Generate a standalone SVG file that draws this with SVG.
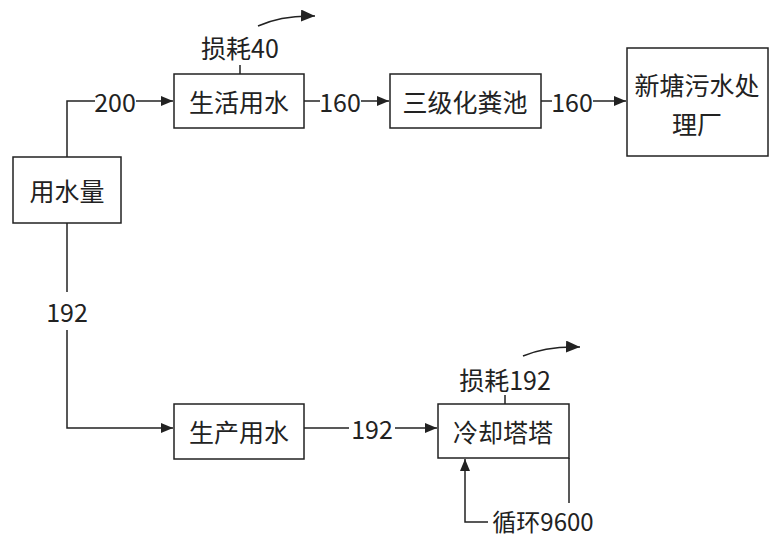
<svg xmlns="http://www.w3.org/2000/svg" width="769" height="537" viewBox="0 0 769 537">
<defs>
<marker id="ah" markerWidth="12" markerHeight="10" refX="12" refY="5" orient="auto" markerUnits="userSpaceOnUse">
<path d="M0,0 L12,5 L0,10 Z" fill="#222"/>
</marker>
<marker id="ah2" markerWidth="14" markerHeight="12" refX="14" refY="6" orient="auto" markerUnits="userSpaceOnUse">
<path d="M0,0 L14,6 L0,12 Z" fill="#222"/>
</marker>
<style>
.box{fill:#fff;stroke:#222;stroke-width:1.5}
.t{font-family:"Microsoft YaHei","Noto Sans CJK SC","Noto Sans",sans-serif;font-size:25px;fill:#222;text-anchor:middle;dominant-baseline:central}
.ln{fill:none;stroke:#222;stroke-width:1.5}
</style>
</defs>
<rect width="769" height="537" fill="#fff"/>
<g id="connectors">
<path class="ln" d="M67,157 V101 H95"/>
<path class="ln" d="M136,101 H173" marker-end="url(#ah)"/>
<path class="ln" d="M304,101 H320"/>
<path class="ln" d="M361,101 H389" marker-end="url(#ah)"/>
<path class="ln" d="M541,101 H552"/>
<path class="ln" d="M593,101 H626" marker-end="url(#ah)"/>
<path class="ln" d="M240,74 V65"/>
<path class="ln" d="M258,26 Q282,15 315,16" marker-end="url(#ah2)"/>
<path class="ln" d="M67,223 V292"/>
<path class="ln" d="M67,330 V428 H173" marker-end="url(#ah)"/>
<path class="ln" d="M304,428 H349"/>
<path class="ln" d="M395,428 H437" marker-end="url(#ah)"/>
<path class="ln" d="M505,404 V395"/>
<path class="ln" d="M523,356 Q546,346 580,347" marker-end="url(#ah2)"/>
<path class="ln" d="M569,458 V503"/>
<path class="ln" d="M488,522 H465 V459" marker-end="url(#ah)"/>
<text class="t" x="115" y="101">200</text>
<text class="t" x="340" y="101">160</text>
<text class="t" x="572" y="101">160</text>
<text class="t" x="67" y="311">192</text>
<text class="t" x="372" y="428">192</text>
</g>
<g id="n-use">
<rect class="box" x="13" y="157" width="108" height="66"/>
<text class="t" x="67" y="190">用水量</text>
</g>
<g id="n-domestic">
<rect class="box" x="174" y="74" width="130" height="54"/>
<text class="t" x="239" y="101">生活用水</text>
</g>
<g id="n-loss40">
<text class="t" x="240" y="47">损耗40</text>
</g>
<g id="n-septic">
<rect class="box" x="390" y="74" width="151" height="54"/>
<text class="t" x="465" y="101">三级化粪池</text>
</g>
<g id="n-plant">
<rect class="box" x="627" y="48" width="141" height="108"/>
<text class="t" x="697" y="84">新塘污水处</text>
<text class="t" x="697" y="123">理厂</text>
</g>
<g id="n-production">
<rect class="box" x="174" y="404" width="130" height="55"/>
<text class="t" x="239" y="431">生产用水</text>
</g>
<g id="n-tower">
<rect class="box" x="438" y="404" width="131" height="54"/>
<text class="t" x="503" y="431">冷却塔塔</text>
</g>
<g id="n-loss192">
<text class="t" x="505" y="379">损耗192</text>
</g>
<g id="n-cycle">
<text class="t" x="543" y="520" style="font-size:24px">循环9600</text>
</g>
</svg>
